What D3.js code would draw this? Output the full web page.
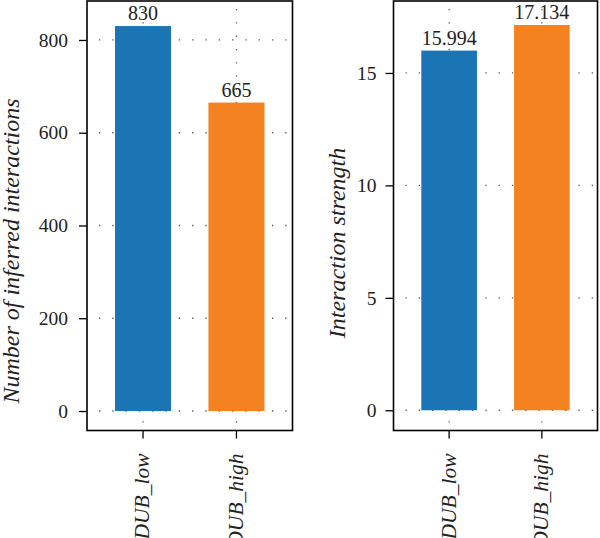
<!DOCTYPE html>
<html>
<head>
<meta charset="utf-8">
<script src="https://cdn.jsdelivr.net/npm/d3@7"></script>
<style>
  html, body { margin: 0; padding: 0; background: #fff; }
  svg { display: block; font-family: "Liberation Serif", "Times New Roman", serif; }
</style>
</head>
<body>
<div id="chart"></div>
<script>
const categories = ["DUB_low", "DUB_high"];
const interactionCounts = [830, 665];
const interactionStrengths = [15.994, 17.134];
const countTicks = [0, 200, 400, 600, 800];
const strengthTicks = [0, 5, 10, 15];
const barColors = ["#1b75b5", "#f58221"];

const svg = d3.select("#chart").append("svg")
  .attr("width", 600)
  .attr("height", 538);

const plotTop = 1, plotBottom = 430.5;

function panel(opts) {
  const g = svg.append("g");
  const x = d3.scaleBand()
    .domain(categories)
    .range([opts.left, opts.right])
    .paddingInner(0.4)
    .paddingOuter(0.3);
  const y = d3.scaleLinear()
    .domain(opts.domain)
    .range([plotBottom, plotTop]);

  // dotted grid
  const grid = g.append("g")
    .attr("stroke", "#555")
    .attr("stroke-width", 1.3)
    .attr("stroke-dasharray", "1.3,12");
  grid.selectAll("line.h")
    .data(opts.ticks)
    .enter().append("line")
    .attr("x1", opts.left + 12)
    .attr("x2", opts.right)
    .attr("y1", d => y(d))
    .attr("y2", d => y(d));
  grid.selectAll("line.v")
    .data(categories)
    .enter().append("line")
    .attr("x1", d => x(d) + x.bandwidth() / 2)
    .attr("x2", d => x(d) + x.bandwidth() / 2)
    .attr("y1", plotTop + 8)
    .attr("y2", plotBottom);

  g.selectAll("rect.bar")
    .data(opts.values)
    .enter().append("rect")
    .attr("class", "bar")
    .attr("x", (d, i) => x(categories[i]))
    .attr("width", x.bandwidth())
    .attr("y", d => y(d))
    .attr("height", d => y(0) - y(d))
    .attr("fill", (d, i) => barColors[i]);

  g.selectAll("text.val")
    .data(opts.values)
    .enter().append("text")
    .attr("class", "val")
    .attr("x", (d, i) => x(categories[i]) + x.bandwidth() / 2)
    .attr("y", d => y(d) - 6)
    .attr("text-anchor", "middle")
    .style("font-size", "20px")
    .attr("fill", "#222")
    .text(d => d);

  // axes
  const yAxis = g.append("g")
    .attr("transform", `translate(${opts.left},0)`)
    .call(d3.axisLeft(y).tickValues(opts.ticks).tickSize(8).tickPadding(opts.tickPad));
  yAxis.select(".domain").remove();
  yAxis.selectAll("line").attr("stroke", "#000").attr("stroke-width", 1.3);
  yAxis.selectAll("text")
    .style("font-size", "19.5px")
    .style("font-family", "'Liberation Serif', serif")
    .attr("fill", "#222");

  const xAxis = g.append("g")
    .attr("transform", `translate(0,${plotBottom})`)
    .call(d3.axisBottom(x).tickSize(8).tickPadding(0));
  xAxis.select(".domain").remove();
  xAxis.selectAll("line").attr("stroke", "#000").attr("stroke-width", 1.3);
  xAxis.selectAll("text")
    .attr("transform", "rotate(-90)")
    .attr("text-anchor", "end")
    .attr("x", -23)
    .attr("y", 0)
    .attr("dy", "0.3em")
    .style("font-size", "21.5px")
    .style("font-style", "italic")
    .style("font-family", "'Liberation Serif', serif")
    .attr("fill", "#222");

  g.append("rect")
    .attr("x", opts.left)
    .attr("y", plotTop)
    .attr("width", opts.right - opts.left)
    .attr("height", plotBottom - plotTop)
    .attr("fill", "none")
    .attr("stroke", "#000")
    .attr("stroke-width", 1.6);

  g.append("text")
    .attr("transform", `translate(${opts.labelX},${opts.labelY}) rotate(-90)`)
    .attr("text-anchor", "middle")
    .style("font-size", "24px")
    .style("font-style", "italic")
    .attr("fill", "#222")
    .text(opts.label);
}

panel({
  left: 87, right: 292.5,
  domain: [-42, 884],
  values: interactionCounts,
  ticks: countTicks,
  tickPad: 11,
  label: "Number of inferred interactions",
  labelX: 19, labelY: 251
});

panel({
  left: 393.5, right: 597.5,
  domain: [-0.9, 18.2],
  values: interactionStrengths,
  ticks: strengthTicks,
  tickPad: 9,
  label: "Interaction strength",
  labelX: 345, labelY: 243
});
</script>
</body>
</html>
